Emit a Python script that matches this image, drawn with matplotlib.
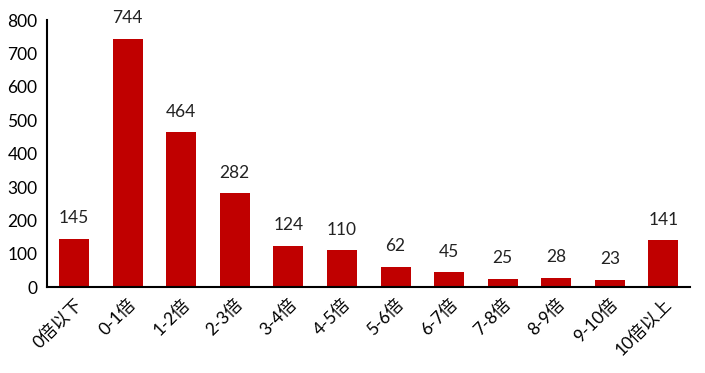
import numpy as np
import matplotlib
matplotlib.use('Agg')
import matplotlib.pyplot as plt

plt.rcParams['font.family'] = ['Lato', 'Noto Sans CJK SC', 'DejaVu Sans']

# 区间标签和数量
categories = ['0倍以下', '0-1倍', '1-2倍', '2-3倍', '3-4倍', '4-5倍',
              '5-6倍', '6-7倍', '7-8倍', '8-9倍', '9-10倍', '10倍以上']
counts = [145, 744, 464, 282, 124, 110, 62, 45, 25, 28, 23, 141]
yticks = [0, 100, 200, 300, 400, 500, 600, 700, 800]

fig = plt.figure(figsize=(7.05, 3.73), dpi=100)
ax = fig.add_axes([0.067, 0.23, 0.912, 0.716])

x = np.arange(len(categories))
bars = ax.bar(x, counts, width=0.56, color='#C00000')

for xi, v in zip(x, counts):
    ax.annotate(str(v), (xi, v), xytext=(0, 9), textcoords='offset points',
                ha='center', va='bottom', fontsize=12.5, color='#222222')

ax.set_xlim(-0.5, len(categories) - 0.5)
ax.set_ylim(0, 800)
ax.set_yticks(yticks)
ax.set_xticks(x)
ax.set_xticklabels(categories, rotation=45, ha='right', rotation_mode='anchor',
                   fontsize=12.5)
ax.tick_params(axis='y', labelsize=12.5, length=0, pad=7)
ax.tick_params(axis='x', length=0, pad=6)

for s in ['top', 'right']:
    ax.spines[s].set_visible(False)
ax.spines['left'].set_linewidth(1.5)
ax.spines['bottom'].set_linewidth(1.5)

plt.savefig('out.png', dpi=100)
